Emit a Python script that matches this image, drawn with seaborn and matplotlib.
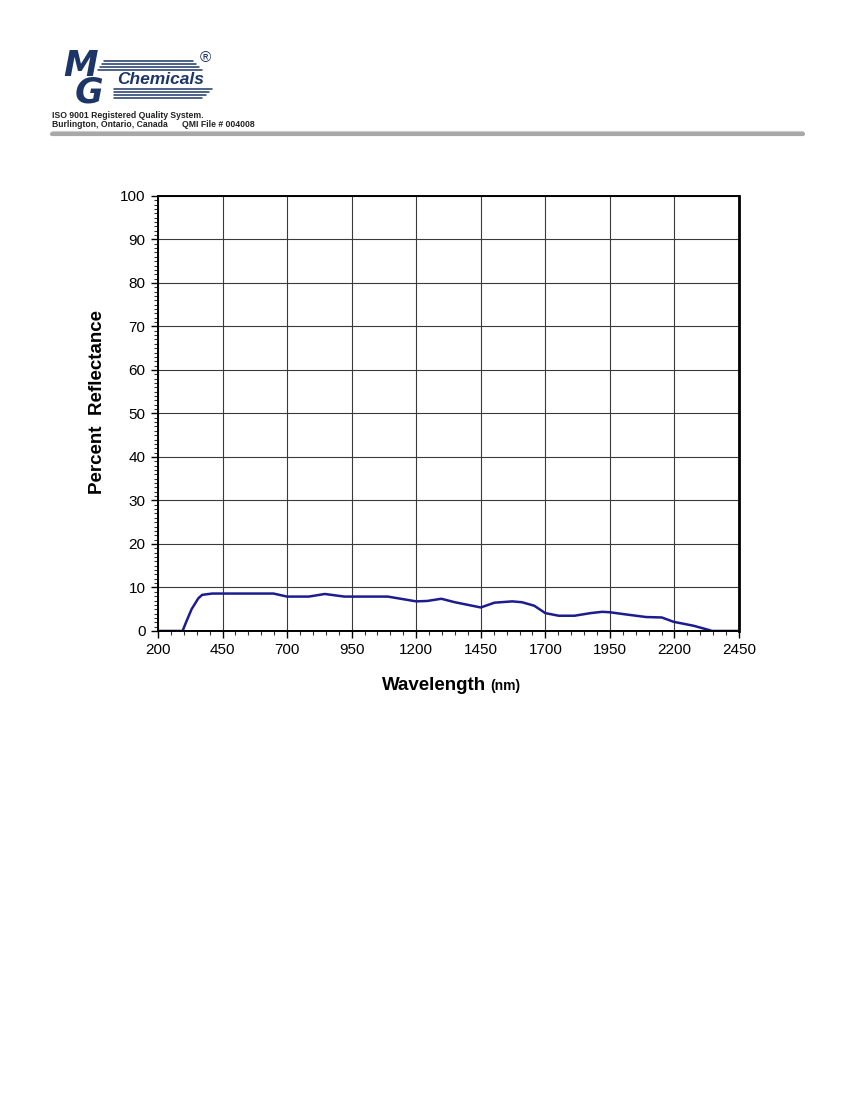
import numpy as np
import pandas as pd
import matplotlib
matplotlib.use('Agg')
import matplotlib.pyplot as plt
from matplotlib.lines import Line2D
from matplotlib.ticker import MultipleLocator
import seaborn as sns

wavelength = [200, 250, 295, 310, 330, 356, 371, 410, 450, 550, 647, 700, 784, 846, 922,
              1000, 1090, 1150, 1200, 1243, 1297, 1350, 1400, 1450, 1503, 1572, 1610,
              1657, 1700, 1752, 1813, 1875, 1920, 1950, 2012, 2090, 2151, 2197, 2274,
              2335, 2345, 2400, 2450]
reflectance = [0.0, 0.0, 0.0, 2.2, 5.0, 7.5, 8.3, 8.6, 8.6, 8.6, 8.6, 7.9, 7.9, 8.5, 7.9,
               7.9, 7.9, 7.3, 6.8, 6.9, 7.4, 6.6, 6.0, 5.4, 6.5, 6.8, 6.6,
               5.8, 4.1, 3.5, 3.5, 4.1, 4.4, 4.3, 3.8, 3.2, 3.1, 2.1, 1.2,
               0.2, 0.0, 0.0, 0.0]
x_ticks = [200, 450, 700, 950, 1200, 1450, 1700, 1950, 2200, 2450]
y_ticks = [0, 10, 20, 30, 40, 50, 60, 70, 80, 90, 100]

df = pd.DataFrame({'wl': wavelength, 'r': reflectance})

sns.set_style('white')
plt.rcParams['font.family'] = ['Liberation Sans', 'DejaVu Sans']

fig = plt.figure(figsize=(8.5, 11), dpi=100)
ax = fig.add_axes([0.1859, 0.4264, 0.6835, 0.3955])

sns.lineplot(data=df, x='wl', y='r', ax=ax, color='#1c1c8f', linewidth=1.8)

ax.set_xlim(200, 2450)
ax.set_ylim(0, 100)
ax.set_xticks(x_ticks)
ax.set_yticks(y_ticks)
ax.xaxis.set_minor_locator(MultipleLocator(50))
ax.yaxis.set_minor_locator(MultipleLocator(1))
ax.tick_params(axis='both', which='both', bottom=True, left=True, top=False, right=False)
ax.tick_params(axis='both', which='major', direction='out', length=5, width=1,
               labelsize=11, color='black', labelcolor='black', pad=4)
ax.tick_params(axis='both', which='minor', direction='out', length=3, width=0.8,
               color='#333333')
ax.grid(True, which='major', color='#3a3a3a', linewidth=0.8)
for s in ax.spines.values():
    s.set_color('black')
    s.set_linewidth(1.4)
ax.spines['right'].set_linewidth(2)

ax.set_ylabel('')
ax.set_xlabel('')
fig.text(97 / 850, 1 - 402 / 1100, 'Percent  Reflectance', fontsize=13.5, fontweight='bold',
         rotation=90, ha='center', va='center', color='black')
fig.text(486 / 850, 1 - 685 / 1100, 'Wavelength', fontsize=13.5, fontweight='bold',
         ha='right', va='center', color='black')
fig.text(490 / 850, 1 - 686 / 1100, '(nm)', fontsize=10, fontweight='bold',
         ha='left', va='center', color='black')

# naglowek z logo
navy = '#1d3567'
fig.text(63 / 850, 1 - 79 / 1100, 'M\n G', fontsize=25, fontweight='bold', style='italic',
         color=navy, ha='left', va='center', family='DejaVu Sans', linespacing=0.72,
         multialignment='left')
fig.text(117 / 850, 1 - 80 / 1100, 'Chemicals', fontsize=12.5, fontweight='bold', style='italic',
         color=navy, ha='left', va='center')
for yy, x0, x1 in [(61, 104, 193), (64, 102, 196), (67, 100, 199), (70, 98, 202),
                   (89, 114, 212), (92, 114, 209), (95, 114, 206), (98, 114, 202)]:
    fig.add_artist(Line2D([x0 / 850, x1 / 850], [1 - yy / 1100, 1 - yy / 1100],
                          color=navy, linewidth=1.1))
fig.text(205 / 850, 1 - 58 / 1100, '®', fontsize=11, color=navy, ha='center', va='center')
fig.text(52 / 850, 1 - 115.5 / 1100, 'ISO 9001 Registered Quality System.', fontsize=6.2,
         fontweight='bold', color='#222222', ha='left', va='center')
fig.text(52 / 850, 1 - 124.5 / 1100, 'Burlington, Ontario, Canada      QMI File # 004008',
         fontsize=6.2, fontweight='bold', color='#222222', ha='left', va='center')
fig.add_artist(Line2D([52 / 850, 803 / 850], [1 - 131 / 1100, 1 - 131 / 1100],
                      color='#d0d0d0', linewidth=0.8))
fig.add_artist(Line2D([52 / 850, 803 / 850], [1 - 134 / 1100, 1 - 134 / 1100],
                      color='#a8a8a8', linewidth=3))

fig.savefig('out.png', dpi=100)
